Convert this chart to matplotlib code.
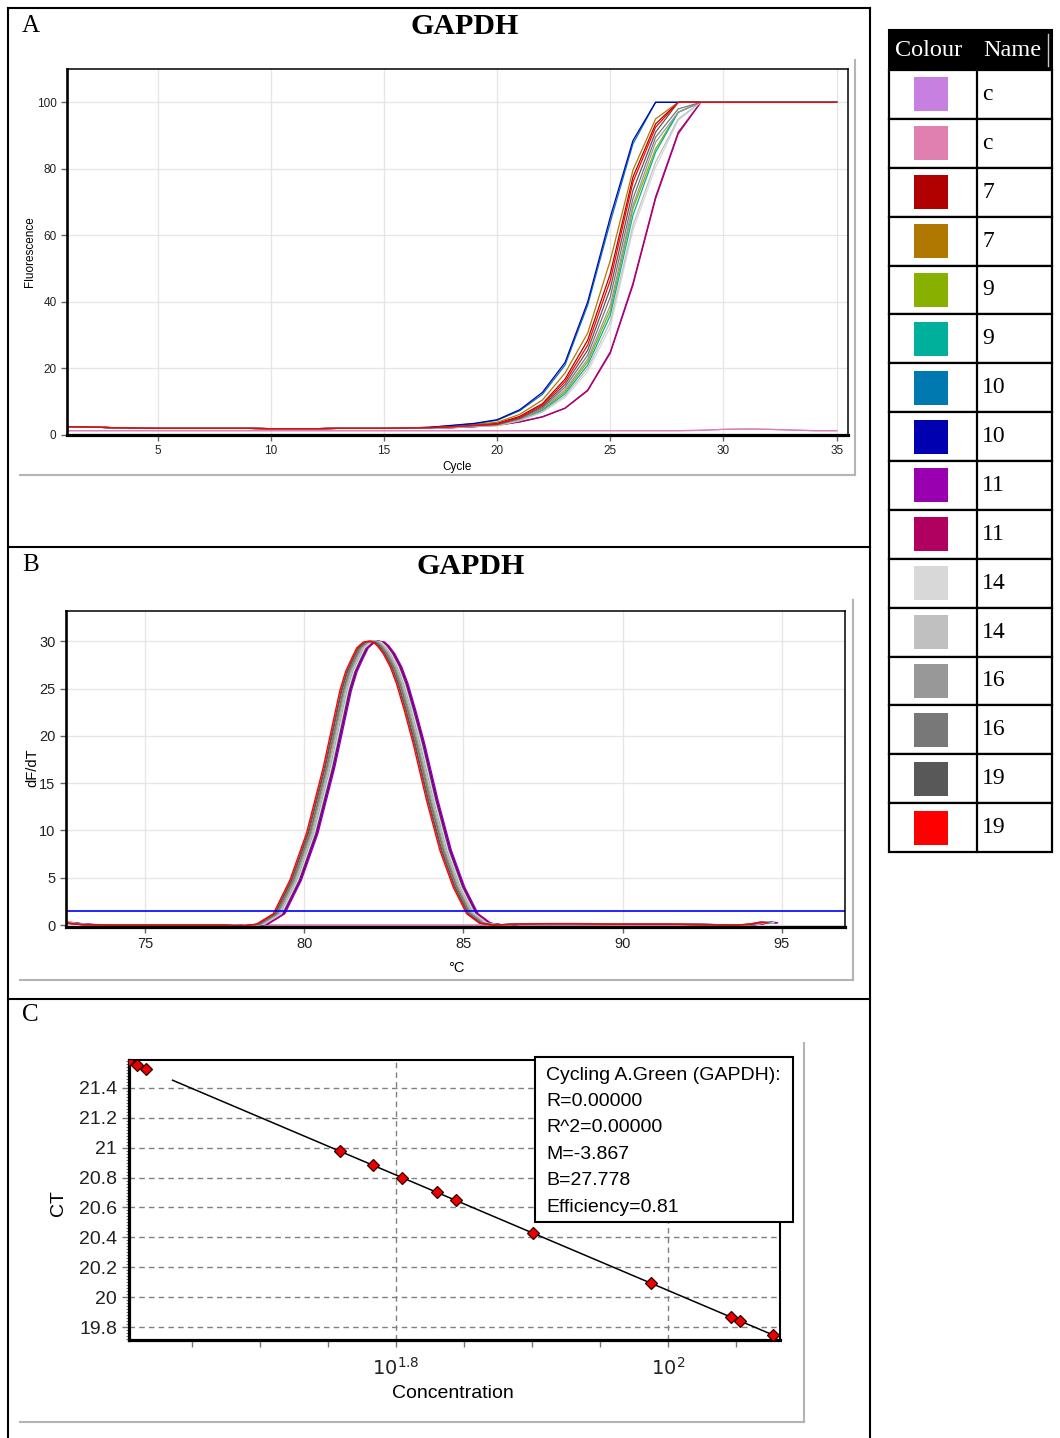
import numpy as np
import matplotlib.pyplot as plt
from matplotlib.lines import Line2D
from matplotlib.patches import Rectangle

W, H = 1060, 1438
SANS = ['Liberation Sans', 'DejaVu Sans']
SERIF = ['Liberation Serif', 'DejaVu Serif']

# samples, in run order
sample_names = ['c', 'c', '7', '7', '9', '9', '10', '10',
                '11', '11', '14', '14', '16', '16', '19', '19']
sample_colors = ['#c880e0', '#e080b0', '#b00000', '#b07800', '#88b000', '#00b09a',
                 '#0078b0', '#0000b0', '#9800b0', '#b00060', '#d8d8d8', '#c0c0c0',
                 '#989898', '#787878', '#585858', '#ff0000']

# A: amplification (normalised fluorescence per cycle)
cycles = list(range(1, 36))
baseline = [2.5, 2.4, 2.2, 2.1, 2.0, 2.0, 2.0, 2.0,
            2.0, 1.9, 1.9, 1.9, 2.0, 2.0, 2.0, 2.1]          # cycles 1-16
rise = {                                                    # cycles 17-29
    2:  [2.2, 2.6, 3.0, 3.5, 5.6, 9.4, 16.8, 28.5, 48.5, 77.5, 93.5, 100, 100],
    3:  [2.3, 2.7, 3.2, 3.8, 6.2, 10.5, 18.6, 30.6, 52.5, 79.6, 95.0, 100, 100],
    4:  [2.1, 2.4, 2.7, 3.0, 4.6, 7.6, 13.0, 22.0, 37.5, 68.0, 86.0, 97.0, 100],
    5:  [2.1, 2.4, 2.7, 2.9, 4.5, 7.3, 12.4, 21.0, 36.0, 66.0, 85.0, 97.0, 100],
    6:  [2.3, 2.8, 3.4, 4.4, 7.3, 12.2, 21.0, 39.0, 64.0, 87.5, 100, 100, 100],
    7:  [2.3, 2.9, 3.5, 4.6, 7.6, 12.8, 21.8, 40.0, 65.5, 88.5, 100, 100, 100],
    8:  [2.0, 2.2, 2.5, 3.0, 4.0, 5.5, 8.1, 13.5, 25.0, 45.6, 71.6, 91.0, 100],
    9:  [2.0, 2.2, 2.5, 2.9, 3.9, 5.4, 8.0, 13.3, 24.6, 45.0, 71.0, 90.5, 100],
    10: [2.0, 2.3, 2.6, 2.8, 4.3, 6.8, 11.3, 19.0, 32.5, 61.5, 80.5, 94.6, 100],
    11: [2.0, 2.3, 2.6, 2.8, 4.4, 7.0, 11.8, 20.0, 34.0, 63.0, 82.0, 95.0, 100],
    12: [2.1, 2.4, 2.7, 3.0, 4.7, 7.9, 13.6, 22.8, 39.0, 69.0, 88.0, 97.0, 100],
    13: [2.1, 2.4, 2.8, 3.1, 4.9, 8.2, 14.4, 24.0, 41.5, 71.0, 89.5, 98.0, 100],
    14: [2.2, 2.5, 2.9, 3.2, 5.1, 8.6, 15.2, 25.5, 44.0, 73.5, 91.0, 100, 100],
    15: [2.2, 2.5, 2.9, 3.3, 5.3, 9.0, 16.0, 27.0, 46.5, 76.0, 92.5, 100, 100],
}
plateau = [100] * 6                                         # cycles 30-35
ntc_fluor = [1.3] * 28 + [1.4, 1.7, 1.8, 1.7, 1.5, 1.3, 1.3]

# B: melt curve (dF/dT) of the earliest-melting sample, plus per-sample offset
melt_temp = [72.5, 73.0, 74.0, 75.0, 76.0, 77.0, 77.5, 78.0, 78.5, 79.03, 79.55,
             80.07, 80.6, 81.12, 81.3, 81.49, 81.65, 81.85, 82.0, 82.17, 82.3,
             82.48, 82.7, 82.9, 83.15, 83.42, 83.84, 84.26, 84.68, 85.1, 85.5,
             85.93, 86.5, 87.5, 88.5, 89.5, 90.5, 91.5, 92.5, 93.5, 94.0, 94.3, 94.5]
melt_base = [0.2, 0.05, 0, 0, 0, 0, 0, -0.1, 0.1, 1.2, 4.75,
             9.7, 16.7, 24.8, 26.8, 28.2, 29.3, 29.9, 30.0, 29.9, 29.5,
             28.7, 27.3, 25.5, 22.6, 19.2, 13.2, 7.9, 4.0, 1.2, 0.2,
             0, 0.1, 0.15, 0.15, 0.1, 0.1, 0.1, 0.05, 0, 0.1, 0.3, 0.25]
melt_shift = [0, 0, 0.05, 0.12, 0.2, 0.22, 0.28, 0.33,
              0.36, 0.3, 0.25, 0.2, 0.15, 0.1, 0.05, 0.0]
ntc_melt_temp = [72.5, 73.0, 74.0, 80.0, 90.0, 93.8, 94.3, 94.5]
ntc_melt = [0.4, 0.1, 0, 0, 0, 0, 0.3, 0.25]
melt_threshold = 1.5

# C: standard curve
std_logconc = [1.603, 1.6096, 1.6162, 1.7588, 1.7831, 1.8044, 1.8301,
               1.8441, 1.9007, 1.9875, 2.0463, 2.0529, 2.0772]
std_ct = [21.58, 21.554, 21.528, 20.977, 20.883, 20.800, 20.701,
          20.647, 20.428, 20.092, 19.865, 19.840, 19.746]
fit_M, fit_B = -3.867, 27.778
fit_range = [1.636, 2.0772]
info_lines = ['Cycling A.Green (GAPDH):', 'R=0.00000', 'R^2=0.00000',
              'M=-3.867', 'B=27.778', 'Efficiency=0.81']


def rect(x0, y0, x1, y1):
    return [x0 / W, 1 - y1 / H, (x1 - x0) / W, (y1 - y0) / H]


def fx(x):
    return x / W


def fy(y):
    return 1 - y / H


fig = plt.figure(figsize=(W / 100, H / 100), dpi=100)
fig.patch.set_facecolor('white')


def fline(xs, ys, **kw):
    fig.add_artist(Line2D([fx(x) for x in xs], [fy(y) for y in ys],
                          transform=fig.transFigure, **kw))


def ftext(x, y, s, **kw):
    kw.setdefault('family', SANS)
    fig.text(fx(x), fy(y), s, **kw)


def style_axes(ax, lab_size):
    ax.grid(True, color='#e6e6e6', lw=1.0)
    ax.set_axisbelow(True)
    ax.tick_params(labelsize=lab_size, length=4, width=1, color='#666666',
                   labelcolor='#222222', direction='out')
    for lab in ax.get_xticklabels() + ax.get_yticklabels():
        lab.set_family(SANS)
    ax.spines['left'].set_linewidth(1.9)
    ax.spines['bottom'].set_linewidth(2.3)
    ax.spines['top'].set_linewidth(1.1)
    ax.spines['right'].set_linewidth(1.1)


# outer frame
fline([8, 870], [8, 8], color='black', lw=1.5)
fline([8, 8], [8, H], color='black', lw=1.5)
fline([870, 870], [8, H], color='black', lw=1.5)
fline([8, 870], [547, 547], color='black', lw=1.5)
fline([8, 870], [999, 999], color='black', lw=1.5)

# grey chart frames
for (x0, x1, ytop, ybot) in [(20, 855, 60, 475), (20, 853, 600, 980), (20, 804, 1043, 1422)]:
    fline([x0, x1], [ybot, ybot], color='#b4b4b4', lw=1.5)
    fline([x1, x1], [ytop, ybot], color='#b4b4b4', lw=1.5)

# panel A
axA = fig.add_axes(rect(67, 69, 848, 435))
for i, col in enumerate(sample_colors):
    if i in rise:
        vals = baseline + rise[i] + plateau
    else:
        vals = ntc_fluor
    axA.plot(cycles, vals, color=col, lw=0.9)
axA.set_xlim(1, 35.5)
axA.set_ylim(0, 110)
axA.set_xticks(range(5, 36, 5))
axA.set_yticks(range(0, 101, 20))
style_axes(axA, 8.5)
ftext(22, 26, 'A', family=SERIF, fontsize=18, va='center')
ftext(465, 27, 'GAPDH', family=SERIF, fontsize=21.5, fontweight='bold', ha='center', va='center')
ftext(30, 252, 'Fluorescence', fontsize=8.5, rotation=90, ha='center', va='center')
ftext(457, 467, 'Cycle', fontsize=8.5, ha='center', va='center')

# panel B
axB = fig.add_axes(rect(66, 611, 845, 927))
for i, col in enumerate(sample_colors):
    if i in rise:
        axB.plot(np.array(melt_temp) + melt_shift[i], melt_base, color=col, lw=1.0)
    else:
        axB.plot(ntc_melt_temp, ntc_melt, color=col, lw=1.0)
axB.axhline(melt_threshold, color='#0000ff', lw=1.2)
axB.set_xlim(72.52, 96.98)
axB.set_ylim(-0.2, 33.2)
axB.set_xticks(range(75, 96, 5))
axB.set_yticks(range(0, 31, 5))
style_axes(axB, 10.5)
ftext(22, 565, 'B', family=SERIF, fontsize=18, va='center')
ftext(471, 566, 'GAPDH', family=SERIF, fontsize=21.5, fontweight='bold', ha='center', va='center')
ftext(32, 768, 'dF/dT', fontsize=10.5, rotation=90, ha='center', va='center')
ftext(456, 968, '°C', fontsize=10.5, ha='center', va='center')

# panel C
axC = fig.add_axes(rect(129, 1060, 780, 1340))
fit_ct = [fit_B + fit_M * x for x in fit_range]
axC.plot(fit_range, fit_ct, color='black', lw=1.1, zorder=3)
axC.plot(std_logconc, std_ct, ls='none', marker='D', ms=6.5, mfc='#ee0000',
         mec='#300000', mew=0.9, zorder=4)
axC.set_xlim(1.604, 2.082)
axC.set_ylim(19.713, 21.587)
ct_ticks = [19.8, 20.0, 20.2, 20.4, 20.6, 20.8, 21.0, 21.2, 21.4]
axC.set_yticks(ct_ticks)
axC.set_yticklabels([f'{v:g}' for v in ct_ticks])
axC.set_yticks(np.arange(19.72, 21.59, 0.02), minor=True)
x_ticks = [1.65, 1.70, 1.75, 1.80, 1.85, 1.90, 1.95, 2.00, 2.05]
axC.set_xticks(x_ticks)
axC.set_xticklabels([r'$10^{1.8}$' if abs(v - 1.8) < 1e-6 else
                     (r'$10^{2}$' if abs(v - 2.0) < 1e-6 else '') for v in x_ticks])
axC.grid(axis='y', ls=(0, (4, 3)), color='#808080', lw=1.0)
for v in [1.8, 2.0]:
    axC.axvline(v, ls=(0, (4, 3)), color='#808080', lw=1.0, zorder=1)
axC.set_axisbelow(True)
axC.tick_params(which='major', labelsize=14, length=5, width=1, color='#777777',
                labelcolor='#222222')
axC.tick_params(axis='y', which='minor', length=2.5, width=0.8, color='#777777')
axC.tick_params(axis='x', pad=7)
for lab in axC.get_xticklabels() + axC.get_yticklabels():
    lab.set_family(SANS)
axC.spines['left'].set_linewidth(2.3)
axC.spines['bottom'].set_linewidth(2.3)
axC.spines['top'].set_linewidth(1.5)
axC.spines['right'].set_linewidth(1.5)
ftext(22, 1015, 'C', family=SERIF, fontsize=18, va='center')
ftext(58, 1203, 'CT', fontsize=14, rotation=90, ha='center', va='center')
ftext(453, 1394, 'Concentration', fontsize=14, ha='center', va='center')

# fit info box
fig.add_artist(Rectangle((fx(535), fy(1222)), (793 - 535) / W, (1222 - 1057) / H,
                         transform=fig.transFigure, facecolor='white',
                         edgecolor='black', lw=1.5, zorder=5))
for k, s in enumerate(info_lines):
    ftext(546, 1075 + k * 26.4, s, fontsize=14, ha='left', va='center', zorder=6)

# colour key table
tx0, tx1, tdiv = 889, 1052, 977
head_top, head_bot = 30, 70
row_h = (852 - head_bot) / len(sample_names)
fig.add_artist(Rectangle((fx(tx0), fy(head_bot)), (tx1 - tx0) / W, (head_bot - head_top) / H,
                         transform=fig.transFigure, facecolor='black', edgecolor='black', lw=1.5))
fline([1048, 1048], [34, 66], color='#c8c8c8', lw=1.0, zorder=3)
ftext(929, 51, 'Colour', family=SERIF, fontsize=17.5, color='white', ha='center', va='center')
ftext(1012, 51, 'Name', family=SERIF, fontsize=17.5, color='white', ha='center', va='center')
for i, (name, col) in enumerate(zip(sample_names, sample_colors)):
    top = head_bot + i * row_h
    fig.add_artist(Rectangle((fx(tx0), fy(top + row_h)), (tx1 - tx0) / W, row_h / H,
                             transform=fig.transFigure, facecolor='white',
                             edgecolor='black', lw=1.6))
    cy = top + row_h / 2
    fig.add_artist(Rectangle((fx(914), fy(cy + 17)), 34 / W, 34 / H,
                             transform=fig.transFigure, facecolor=col, edgecolor='none'))
    ftext(982, cy, name, family=SERIF, fontsize=17, ha='left', va='center')
fline([tdiv, tdiv], [head_bot, 852], color='black', lw=1.6)

fig.savefig('out.png', dpi=100)
